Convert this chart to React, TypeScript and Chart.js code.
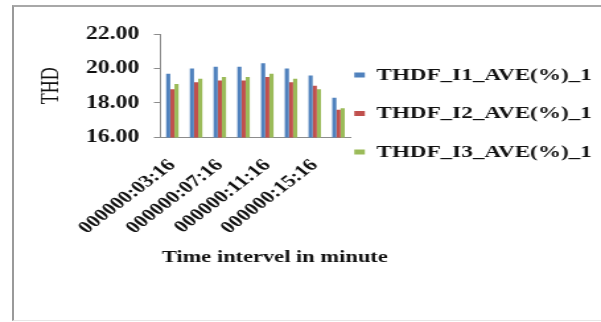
import React, { useEffect, useRef } from 'react';
import { Chart, registerables } from 'chart.js';

Chart.register(...registerables);

const categories = [
  '000000:03:16',
  '000000:05:16',
  '000000:07:16',
  '000000:09:16',
  '000000:11:16',
  '000000:13:16',
  '000000:15:16',
  '000000:17:16',
];
const seriesNames = ['THDF_I1_AVE(%)_1', 'THDF_I2_AVE(%)_1', 'THDF_I3_AVE(%)_1'];
const i1Values = [19.7, 20.0, 20.1, 20.1, 20.3, 20.0, 19.6, 18.3];
const i2Values = [18.8, 19.2, 19.3, 19.3, 19.5, 19.2, 19.0, 17.6];
const i3Values = [19.1, 19.4, 19.5, 19.5, 19.7, 19.4, 18.8, 17.7];
const yTicks = [16, 18, 20, 22];
const seriesColors = ['#4F81BD', '#C0504D', '#9BBB59'];
const xAxisTitle = 'Time intervel in minute';
const yAxisTitle = 'THD';

const FONT = '"Liberation Serif", "Times New Roman", serif';
const INTERNAL_W = 455;
const H = 322;

export default function App() {
  const ref = useRef<HTMLCanvasElement>(null);

  useEffect(() => {
    const canvas = ref.current;
    if (!canvas) return;
    const values = [i1Values, i2Values, i3Values];
    const chart = new Chart(canvas, {
      type: 'bar',
      data: {
        labels: categories,
        datasets: seriesNames.map((name, i) => ({
          label: name,
          data: values[i],
          backgroundColor: seriesColors[i],
          borderWidth: 0,
          categoryPercentage: 0.525,
          barPercentage: 1.0,
        })),
      },
      options: {
        responsive: false,
        animation: false,
        devicePixelRatio: 1,
        layout: { padding: { top: 0, left: -42, right: -3, bottom: 0 } },
        plugins: {
          tooltip: { enabled: false },
          title: {
            display: true,
            text: '',
            font: { size: 12 },
            padding: { top: 19.6, bottom: 0 },
          },
          subtitle: {
            display: true,
            text: xAxisTitle,
            position: 'bottom',
            color: '#111',
            font: { family: FONT, size: 17, weight: 'bold', lineHeight: 1.2 },
            padding: { top: -8.7, bottom: 54.3 },
          },
          legend: {
            position: 'right',
            align: 'start',
            maxWidth: 260,
            title: {
              display: true,
              text: '',
              padding: { top: 48.85, bottom: 0 },
              font: { size: 12 },
            },
            labels: {
              boxWidth: 8,
              boxHeight: 5,
              padding: 3,
              color: '#111',
              font: { family: FONT, size: 17.5, weight: 'bold', lineHeight: 35.5 / 17.5 },
              generateLabels: (c: any) =>
                (Chart.defaults.plugins.legend.labels as any)
                  .generateLabels(c)
                  .map((item: any) => ({ ...item, text: [item.text] })),
            },
          },
        },
        scales: {
          x: {
            offset: true,
            grid: { display: false, drawTicks: false },
            border: { display: true, color: '#8c8c8c', width: 1 },
            ticks: {
              autoSkip: false,
              minRotation: 45,
              maxRotation: 45,
              padding: 18,
              color: '#111',
              font: { family: FONT, size: 17, weight: 'bold' },
              callback: (_v: any, index: number) => (index % 2 === 0 ? categories[index] : ''),
            },
            title: { display: false },
          },
          y: {
            min: yTicks[0],
            max: yTicks[yTicks.length - 1],
            grid: { drawOnChartArea: false, drawTicks: true, tickLength: 5, color: '#8c8c8c' },
            border: { display: true, color: '#8c8c8c', width: 1 },
            afterFit: (scale: any) => {
              scale.width = 163.5;
            },
            ticks: {
              stepSize: yTicks[1] - yTicks[0],
              padding: 11,
              color: '#111',
              font: { family: FONT, size: 18, weight: 'bold' },
              callback: (v: any) => Number(v).toFixed(2),
            },
            title: {
              display: true,
              text: yAxisTitle,
              color: '#111',
              font: { family: FONT, size: 18 },
              padding: { top: 70.9, bottom: 2 },
            },
          },
        },
      },
    } as any);
    return () => chart.destroy();
  }, []);

  return (
    <div
      style={{
        position: 'fixed',
        left: 0,
        top: 0,
        width: 601,
        height: 322,
        overflow: 'hidden',
        background: '#fff',
      }}
    >
      <div
        style={{
          position: 'absolute',
          left: 12,
          top: 5,
          width: 640,
          height: 316,
          boxSizing: 'border-box',
          borderLeft: '2px solid #9a9a9a',
          borderTop: '2px solid #a8a8a8',
          borderBottom: '1px solid #e6e6e6',
        }}
      />
      <canvas
        ref={ref}
        width={INTERNAL_W}
        height={H}
        style={{ position: 'absolute', left: 0, top: 0, width: '601px', height: '322px' }}
      />
    </div>
  );
}
